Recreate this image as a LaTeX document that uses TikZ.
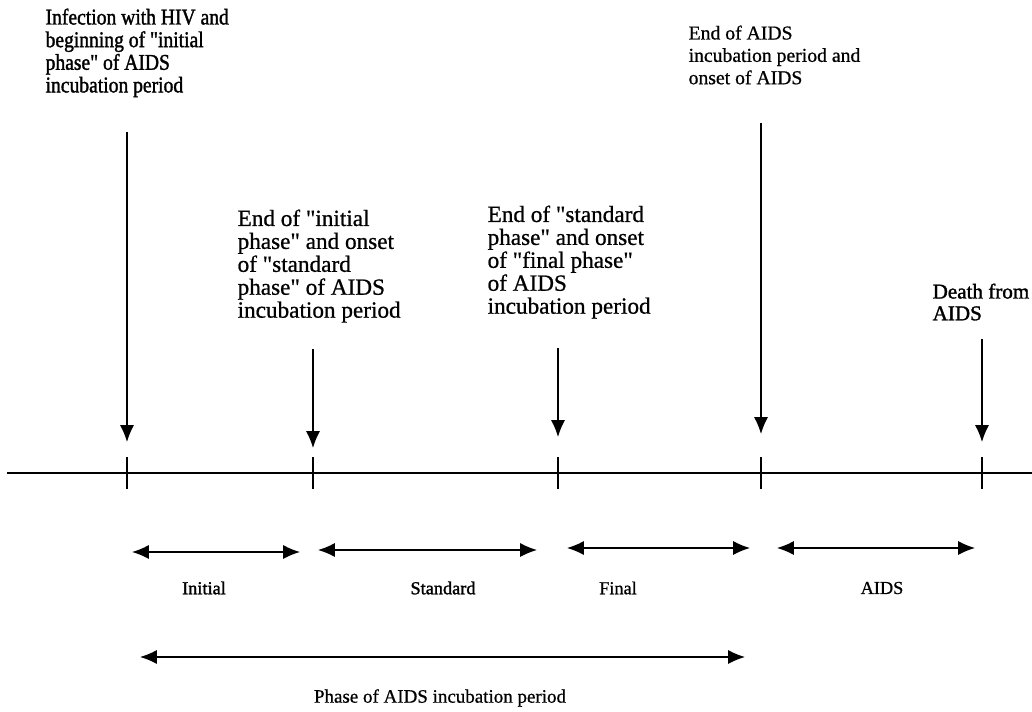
\documentclass[tikz,border=0pt]{standalone}
\usepackage{fontspec}
\setmainfont{Liberation Serif}[Ligatures=TeXOff, FakeBold=0.8]
\newfontfamily\condserif{Liberation Serif}[Ligatures=TeXOff, FakeStretch=0.87, FakeBold=1.5]
\newfontfamily\heavyserif{Liberation Serif}[Ligatures=TeXOff, FakeBold=1.5]
\usetikzlibrary{arrows.meta}

\tikzset{
  event/.style={anchor=north west, inner sep=0pt, align=left},
  phase/.style={inner sep=0pt, font=\fontsize{13}{15}\selectfont}
}

\begin{document}
\begin{tikzpicture}[x=0.025cm, y=-0.025cm, line width=0.9pt]
  \useasboundingbox (0,0) rectangle (1032,711);

  % events above the time axis
  \node[event, font=\condserif\fontsize{16}{16.1}\selectfont] (0) at (45,8) {Infection with HIV and\\beginning of "initial\\phase" of AIDS\\incubation period};
  \node[event, font=\fontsize{16.5}{16.3}\selectfont] (1) at (237,209) {End of "initial\\phase" and onset\\of "standard\\phase" of AIDS\\incubation period};
  \node[event, font=\fontsize{16.5}{16.3}\selectfont] (2) at (487,205) {End of "standard\\phase" and onset\\of "final phase"\\of AIDS\\incubation period};
  \node[event, font=\fontsize{14}{15.9}\selectfont] (3) at (688,25) {End of AIDS\\incubation period and\\onset of AIDS};
  \node[event, font=\heavyserif\fontsize{15}{15.5}\selectfont] (4) at (932,283) {Death from\\AIDS};

  \coordinate (r0) at (127,132);
  \coordinate (r1) at (313,349);
  \coordinate (r2) at (558,348);
  \coordinate (r3) at (761,123);
  \coordinate (r4) at (982,339);

  \coordinate (q0) at (127,442);
  \coordinate (q1) at (313,448);
  \coordinate (q2) at (558,437);
  \coordinate (q3) at (761,434);
  \coordinate (q4) at (982,442);

  \coordinate (p0) at (127,473);
  \coordinate (p1) at (313,473);
  \coordinate (p2) at (558,473);
  \coordinate (p3) at (761,473);
  \coordinate (p4) at (982,473);

  \coordinate (left) at (7,473);
  \coordinate (right) at (1032,473);

  \draw[line width=1.8pt] (left) -- (right);
  \foreach \i in {0,...,4}
    \draw (p\i) ++(0,-16) -- ++(0,32);

  \foreach \i in {0,...,4}
    \draw[-{Latex[length=12pt,width=10pt]}] (r\i) -- (q\i);

  % phases below the time axis
  \coordinate (a0) at (132,552);
  \coordinate (b0) at (300,552);
  \coordinate (a1) at (318,550);
  \coordinate (b1) at (537,550);
  \coordinate (a2) at (567,548);
  \coordinate (b2) at (750,548);
  \coordinate (a3) at (777,548);
  \coordinate (b3) at (975,548);
  \coordinate (a4) at (140,657);
  \coordinate (b4) at (745,657);

  \foreach \i in {0,...,4}
    \draw[{Latex[length=12pt,width=10pt]}-{Latex[length=12pt,width=10pt]}] (a\i) -- (b\i);

  \node[phase, font=\heavyserif\fontsize{13}{15}\selectfont] (5) at (204,588) {Initial};
  \node[phase, font=\heavyserif\fontsize{13}{15}\selectfont] (6) at (443,588) {Standard};
  \node[phase] (7) at (618,588) {Final};
  \node[phase] (8) at (882,588) {AIDS};
  \node[phase, font=\fontsize{13.5}{15}\selectfont] (9) at (440,698) {Phase of AIDS incubation period};
\end{tikzpicture}
\end{document}
